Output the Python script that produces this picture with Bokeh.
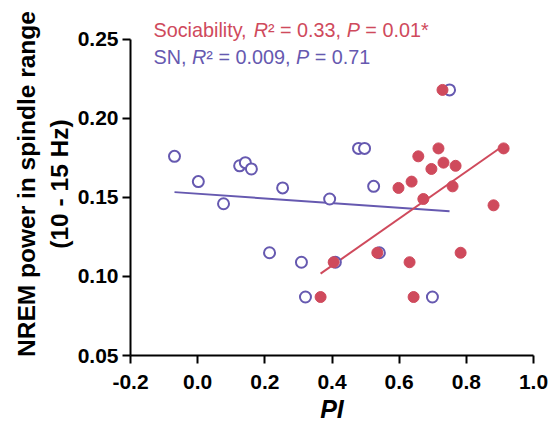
import numpy as np
from bokeh.plotting import figure
from bokeh.models import Range1d, Label, FixedTicker, PrintfTickFormatter
from bokeh.embed import file_html
from bokeh.resources import INLINE

# ---- data ----
sn_x = [-0.069, 0.002, 0.077, 0.125, 0.142, 0.160, 0.253, 0.214, 0.309, 0.321,
        0.393, 0.479, 0.497, 0.524, 0.541, 0.410, 0.750, 0.699]
sn_y = [0.176, 0.160, 0.146, 0.170, 0.172, 0.168, 0.156, 0.115, 0.109, 0.087,
        0.149, 0.181, 0.181, 0.157, 0.115, 0.109, 0.218, 0.087]
soc_x = [0.729, 0.717, 0.657, 0.696, 0.732, 0.768, 0.911, 0.637, 0.598, 0.759,
         0.672, 0.881, 0.535, 0.631, 0.783, 0.405, 0.366, 0.643]
soc_y = [0.218, 0.181, 0.176, 0.168, 0.172, 0.170, 0.181, 0.160, 0.156, 0.157,
         0.149, 0.145, 0.115, 0.109, 0.115, 0.109, 0.087, 0.087]
x_ticks = [-0.2, 0.0, 0.2, 0.4, 0.6, 0.8, 1.0]
y_ticks = [0.05, 0.10, 0.15, 0.20, 0.25]

RED = "#CF4A5C"
PURPLE = "#6659B0"
FONT = "Liberation Sans"

# layout (pixels)
W_FIG, H_FIG = 555, 425
LEFT, RIGHT, TOP, BOTTOM = 130, 22, 12, 68
frame_h = H_FIG - TOP - BOTTOM
axis_h = 318                            # pixel span of 0.05..0.25
y0, y1 = y_ticks[0], y_ticks[-1]
y_end = y0 + (y1 - y0) * frame_h / axis_h

p = figure(width=W_FIG, height=H_FIG, output_backend="svg", toolbar_location=None,
           x_range=Range1d(x_ticks[0], x_ticks[-1]), y_range=Range1d(y0, y_end),
           min_border_left=LEFT, min_border_right=RIGHT, min_border_top=TOP,
           min_border_bottom=BOTTOM)
p.outline_line_color = None
p.grid.visible = False
p.background_fill_color = "white"
p.border_fill_color = "white"

for ax in (p.xaxis[0], p.yaxis[0]):
    ax.axis_line_width = 2
    ax.axis_line_color = "black"
    ax.major_tick_line_width = 2
    ax.major_tick_line_color = "black"
    ax.major_tick_out = 8
    ax.major_tick_in = 0
    ax.minor_tick_line_color = None
    ax.major_label_text_font = FONT
    ax.major_label_text_font_style = "bold"
    ax.major_label_text_font_size = "21px"
    ax.major_label_text_color = "black"
    ax.axis_label_text_font = FONT
    ax.axis_label_text_color = "black"

p.yaxis.bounds = (y0, y1)
p.xaxis.ticker = FixedTicker(ticks=x_ticks)
p.yaxis.ticker = FixedTicker(ticks=y_ticks)
p.xaxis.formatter = PrintfTickFormatter(format="%.1f")
p.yaxis.formatter = PrintfTickFormatter(format="%.2f")
p.xaxis.major_label_standoff = 11
p.yaxis.major_label_standoff = 4

p.xaxis.axis_label = "PI"
p.xaxis.axis_label_text_font_style = "bold italic"
p.xaxis.axis_label_text_font_size = "25px"
p.xaxis.axis_label_standoff = 3

p.yaxis.axis_label = "NREM power in spindle range\n(10 - 15 Hz)"
p.yaxis.axis_label_text_font_style = "bold"
p.yaxis.axis_label_text_font_size = "24.5px"
p.yaxis.axis_label_text_line_height = 1.22
p.yaxis.axis_label_standoff = 2

# regression lines from the data
def fit_line(xs, ys):
    xs = np.asarray(xs); ys = np.asarray(ys)
    m, b = np.polyfit(xs, ys, 1)
    x0, x1 = xs.min(), xs.max()
    return [x0, x1], [m * x0 + b, m * x1 + b]

lx, ly = fit_line(sn_x, sn_y)
p.line(lx, ly, line_color=PURPLE, line_width=2)
lx2, ly2 = fit_line(soc_x, soc_y)
p.line(lx2, ly2, line_color=RED, line_width=2)

p.scatter(sn_x, sn_y, marker="circle", size=11, fill_color="white",
          line_color=PURPLE, line_width=2)
p.scatter(soc_x, soc_y, marker="circle", size=11, fill_color=RED,
          line_color=RED, line_width=1)

# legend text pieces
W = {' ': 278, ',': 278, '.': 278, '=': 584, '*': 389, 'S': 667, 'o': 556,
     'c': 500, 'i': 222, 'a': 556, 'b': 556, 'l': 222, 't': 278, 'y': 500,
     'N': 722, 'R': 722, 'P': 667, '²': 333}
for d in "0123456789":
    W[d] = 556
FS = 19.8

def tw(s):
    return sum(W.get(c, 556) for c in s) / 1000.0 * FS

def legend_line(parts, color, y):
    x = 23.0
    for text, style in parts:
        lead = len(text) - len(text.lstrip(" "))
        x += tw(" " * lead)
        core = text.strip(" ")
        p.add_layout(Label(x=x, y=y, x_units="screen", y_units="screen",
                           text=core, text_font=FONT, text_font_size=f"{FS}px",
                           text_font_style=style, text_color=color,
                           text_baseline="alphabetic", text_align="left"))
        x += tw(text.lstrip(" "))

legend_line([("Sociability, ", "normal"), ("R", "italic"), ("² = 0.33, ", "normal"),
             ("P", "italic"), (" = 0.01*", "normal")], RED, 326)
legend_line([("SN, ", "normal"), ("R", "italic"), ("² = 0.009, ", "normal"),
             ("P", "italic"), (" = 0.71", "normal")], PURPLE, 299)

open("out.html", "w").write(file_html(p, INLINE))
